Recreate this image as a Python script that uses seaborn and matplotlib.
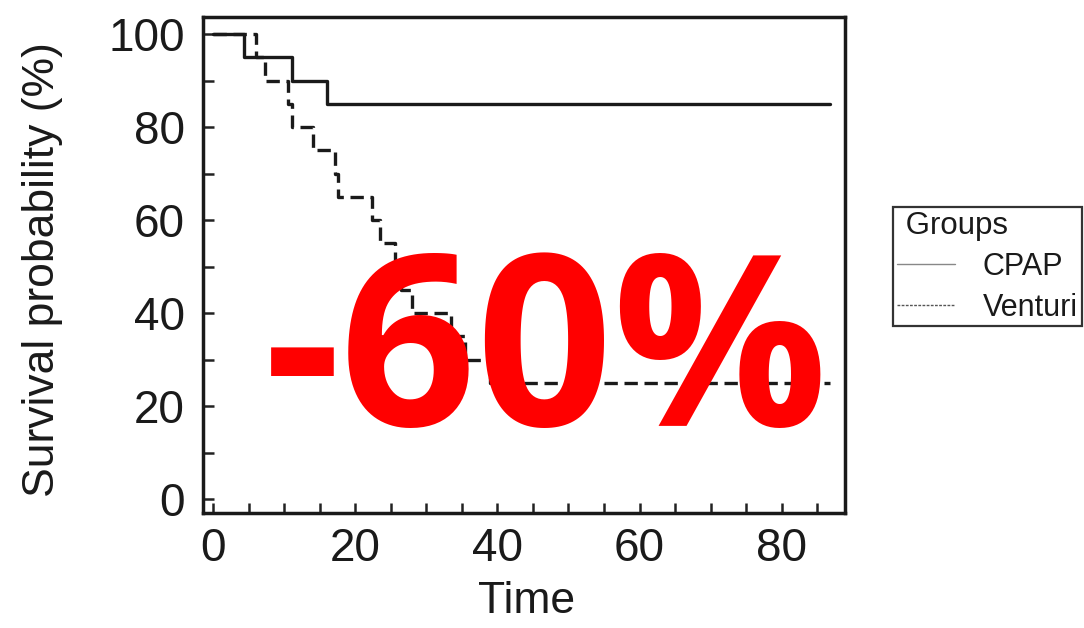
import matplotlib
matplotlib.use("Agg")
import matplotlib.pyplot as plt
from matplotlib.lines import Line2D
from matplotlib.ticker import MultipleLocator
import numpy as np
import pandas as pd
import seaborn as sns

# Kaplan-Meier step curves (time, survival %) for each group
cpap_time = [0, 4.3, 11.1, 16.0, 86.8]
cpap_surv = [100, 95, 90, 85, 85]

venturi_time = [0, 6.1, 7.3, 10.5, 11.1, 14.1, 17.2, 17.6, 22.4, 23.5,
                25.6, 26.4, 28.0, 33.5, 35.5, 39.0, 86.8]
venturi_surv = [100, 95, 90, 85, 80, 75, 70, 65, 60, 55,
                50, 45, 40, 35, 30, 25, 25]

groups = ["CPAP", "Venturi"]
x_ticks = [0, 20, 40, 60, 80]
y_ticks = [0, 20, 40, 60, 80, 100]
annotation = "-60%"

df = pd.concat([
    pd.DataFrame({"Time": cpap_time, "Survival": cpap_surv, "Groups": groups[0]}),
    pd.DataFrame({"Time": venturi_time, "Survival": venturi_surv, "Groups": groups[1]}),
], ignore_index=True)

sns.set_theme(style="ticks")
plt.rcParams["font.family"] = ["Liberation Sans", "DejaVu Sans"]

W, H = 1084, 628
fig = plt.figure(figsize=(W / 100, H / 100), dpi=100)
ax = fig.add_axes([203 / W, 1 - 513 / H, (845 - 203) / W, (513 - 17) / H])

line_color = "#1a1a1a"
sns.lineplot(
    data=df, x="Time", y="Survival", hue="Groups", style="Groups",
    palette=[line_color, line_color],
    dashes={"CPAP": "", "Venturi": (4, 2)},
    drawstyle="steps-post", estimator=None, sort=False,
    linewidth=2.4, legend=False, ax=ax,
)

ax.set_xlim(-1.4, 88.9)
ax.set_ylim(-3.0, 103.7)
ax.set_xticks(x_ticks)
ax.set_yticks(y_ticks)
ax.xaxis.set_minor_locator(MultipleLocator(5))
ax.yaxis.set_minor_locator(MultipleLocator(10))
ax.tick_params(axis="both", which="both", direction="in", width=1.8,
               color="#222222", labelsize=33, labelcolor="#1a1a1a")
ax.tick_params(axis="x", which="both", length=7, pad=10)
ax.tick_params(axis="y", which="both", length=8, pad=13)

for side in ["left", "right", "top", "bottom"]:
    ax.spines[side].set_visible(True)
    ax.spines[side].set_linewidth(2.5)
    ax.spines[side].set_color("#1a1a1a")

ax.set_xlabel("Time", fontsize=32, color="#1a1a1a")
ax.set_ylabel("Survival probability (%)", fontsize=32, color="#1a1a1a")
ax.xaxis.set_label_coords((527 - 203) / 642, (513 - 581) / 496)
ax.yaxis.set_label_coords((63 - 203) / 642, (513 - 270) / 496)

handles = [
    Line2D([], [], color="#888888", lw=1.0, linestyle="-"),
    Line2D([], [], color="#555555", lw=1.0, linestyle=(0, (2, 1))),
]
leg = fig.legend(
    handles, groups, title=" Groups", loc="upper left",
    bbox_to_anchor=(893 / W, 1 - 207 / H), bbox_transform=fig.transFigure,
    fontsize=22, title_fontsize=22.5, frameon=True, fancybox=False,
    edgecolor="#333333", framealpha=1, borderpad=0.12, labelspacing=0.36,
    handlelength=1.9, handletextpad=0.92, borderaxespad=0,
)
leg._legend_box.align = "left"
leg.get_frame().set_linewidth(1.6)
for t in leg.get_texts():
    t.set_color("#1a1a1a")
leg.get_title().set_color("#1a1a1a")

fig.text(546 / W, 1 - 426 / H, annotation, color="#ff0000",
         fontsize=172, fontweight="bold", family=["Open Sans", "DejaVu Sans"],
         ha="center", va="baseline")

fig.savefig("out.png", dpi=100)
